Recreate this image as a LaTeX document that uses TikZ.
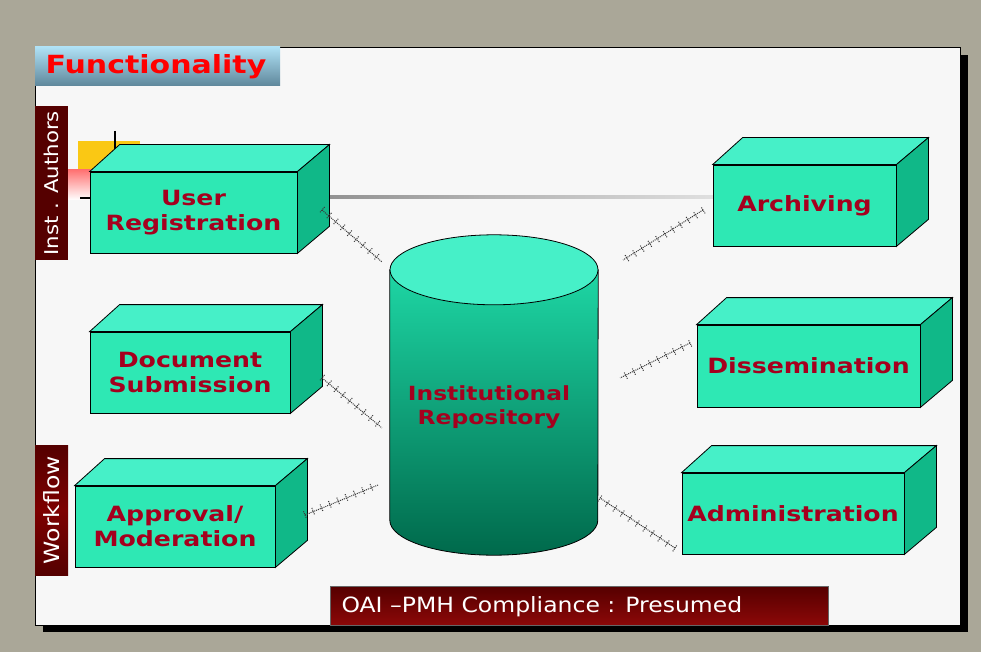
\documentclass[tikz,border=0pt]{standalone}
\usepackage{fontspec}
\setmainfont{DejaVu Sans}
\newfontfamily\widefont[FakeStretch=1.2]{DejaVu Sans}
\newfontfamily\bannerfont[FakeStretch=1.12]{DejaVu Sans}
\usepackage{tikz}
\usetikzlibrary{calc,decorations.pathreplacing,positioning}
\definecolor{slide}{RGB}{170,167,152}
\definecolor{board}{RGB}{247,247,247}
\definecolor{aqua}{RGB}{46,232,180}
\definecolor{aquatop}{RGB}{70,240,200}
\definecolor{aquaside}{RGB}{16,184,136}
\definecolor{boxred}{RGB}{165,0,30}
\definecolor{maroon}{RGB}{85,0,0}
\definecolor{darkaqua}{RGB}{0,105,75}
\definecolor{gold}{RGB}{250,200,20}
\tikzset{boxtop/.style={fill=aquatop,draw=black,line width=0.8pt},boxside/.style={fill=aquaside,draw=black,line width=0.8pt}}

\begin{document}
\begin{tikzpicture}[x=1pt,y=-1pt,font=\fontsize{19}{23}\selectfont]

\tikzset{boxfront/.style={fill=aqua,draw=black,line width=0.8pt,text=boxred,font=\widefont\fontsize{21}{25}\selectfont\bfseries,align=center,inner sep=0pt},
sidelabel/.style={fill=maroon,minimum width=33pt,inner sep=0pt},
link/.style={draw=gray!45!black,line width=1pt,densely dotted,postaction={decorate,draw=gray!45!black,densely dotted,line width=1pt,decoration={ticks,segment length=9pt,amplitude=4pt}}}}

% Slide and board
\useasboundingbox (0,0) rectangle (981,652);
\fill[slide] (0,0) rectangle (981,652);
\fill[black] (43,55) rectangle (968,632);
\fill[board] (35,47) rectangle (960,625);
\draw[black,line width=0.6pt] (35,47) rectangle (960,625);

% Title
\shade[top color={rgb,255:red,175;green,225;blue,245},middle color={rgb,255:red,205;green,238;blue,250},bottom color={rgb,255:red,95;green,135;blue,155}] (35,47) rectangle (280,86);
\node[anchor=west,text=red,font=\widefont\fontsize{25}{28}\selectfont\bfseries] (title) at (42,67) {Functionality};

% Side labels
\node[sidelabel,minimum height=154pt,anchor=north west] (inst) at (35,106) {};
\node[rotate=90,text=white,font=\bannerfont\fontsize{19}{22}\selectfont] at (inst.center) {Inst . Authors};
\node[sidelabel,minimum height=130pt,anchor=north west,top color=maroon,bottom color=maroon,middle color={rgb,255:red,125;green,0;blue,0}] (flow) at (35,445) {};
\node[rotate=90,text=white,font=\bannerfont\fontsize{21}{24}\selectfont] at (flow.center) {Workflow};

% Leftover chart bits behind the first box
\fill[gold] (78,141) rectangle (140,172);
\shade[top color=red!55,bottom color=white] (68,170) rectangle (92,200);
\draw[black,line width=1.2pt] (115,131) -- (115,172);
\draw[black,line width=1.2pt] (80,198) -- (90,198);
\shade[left color=gray!85,right color=gray!25] (329,196) rectangle (713,199);

% Boxes
\node[boxfront,minimum width=207pt,minimum height=81pt] (reg) at (193.5,212.5) {User\\Registration};
\node[boxfront,minimum width=200pt,minimum height=81pt] (sub) at (190,372.5) {Document\\Submission};
\node[boxfront,minimum width=200pt,minimum height=81pt] (appr) at (175,526.5) {Approval/\\Moderation};
\node[boxfront,minimum width=183pt,minimum height=81pt] (arch) at (804.5,205.5) {Archiving};
\node[boxfront,minimum width=223pt,minimum height=82pt] (diss) at (808.5,366) {Dissemination};
\node[boxfront,minimum width=222pt,minimum height=81pt] (adm) at (793,513.5) {Administration};
\foreach \b in {reg,sub,appr,arch,diss,adm} {
  \draw[boxtop] (\b.north west) -- ++(30,-27) -- ($(\b.north east)+(32,-27)$) -- (\b.north east) -- cycle;
  \draw[boxside] (\b.north east) -- ++(32,-27) -- ($(\b.south east)+(32,-27)$) -- (\b.south east) -- cycle;
}

% Repository cylinder
\node[minimum width=208pt,minimum height=250pt,inner sep=0pt] (ir) at (494,395) {};
\shade[top color={rgb,255:red,30;green,215;blue,165},bottom color=darkaqua,draw=black,line width=0.8pt]
  (ir.north west) -- (ir.south west) arc[start angle=180,end angle=360,x radius=104,y radius=-35] -- (ir.north east) -- cycle;
\draw[fill=aquatop,line width=0.8pt] (ir.north) ellipse[x radius=104,y radius=35];
\node[text=boxred,font=\widefont\fontsize{19.5}{24}\selectfont\bfseries,align=center] at (489,407) {Institutional\\Repository};

% Links
\coordinate (reg-e) at (322,210);
\coordinate (sub-e) at (322,378);
\coordinate (appr-e) at (305,515);
\coordinate (arch-w) at (703,210);
\coordinate (diss-w) at (690,343);
\coordinate (adm-w) at (675,548);
\coordinate (ir-1) at (382,262);
\coordinate (ir-2) at (382,428);
\coordinate (ir-3) at (378,485);
\coordinate (ir-4) at (623,260);
\coordinate (ir-5) at (620,378);
\coordinate (ir-6) at (600,498);
\draw[link] (reg-e) -- (ir-1);
\draw[link] (sub-e) -- (ir-2);
\draw[link] (appr-e) -- (ir-3);
\draw[link] (arch-w) -- (ir-4);
\draw[link] (diss-w) -- (ir-5);
\draw[link] (adm-w) -- (ir-6);

% Compliance banner
\shade[top color=maroon,bottom color={rgb,255:red,140;green,8;blue,8},draw=black!60] (330,586) rectangle (828,625);
\node[anchor=west,text=white,font=\bannerfont\fontsize{21}{24}\selectfont] (oai) at (338,607) {OAI –PMH Compliance : Presumed};

\end{tikzpicture}
\end{document}
